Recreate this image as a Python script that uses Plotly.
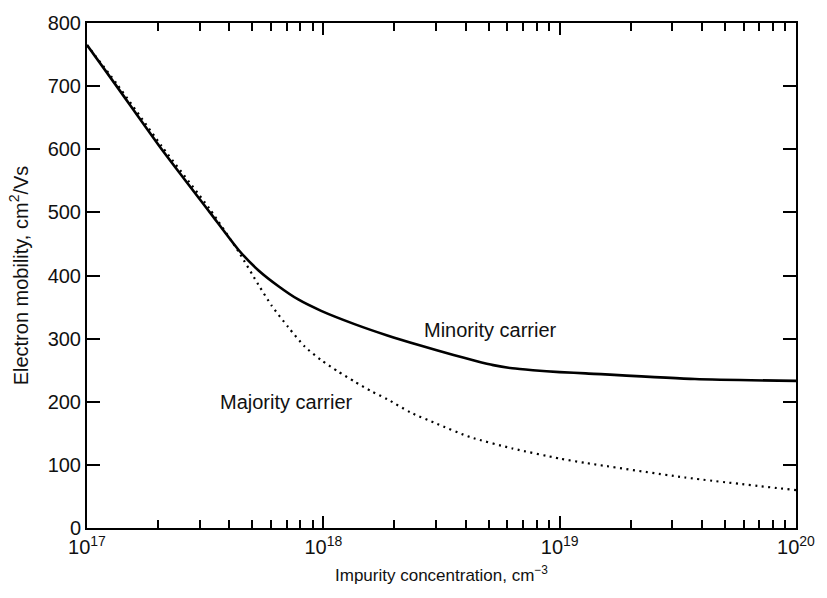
import plotly.graph_objects as go

# Minority carrier (solid)
minority_conc = [1e17, 1.334e17, 2.07e17, 3.31e17, 4.39e17, 5.32e17, 6.46e17, 7.83e17,
                 9.79e17, 1.355e18, 1.866e18, 2.576e18, 3.556e18, 4.385e18, 5.236e18,
                 6.31e18, 7.71e18, 1e19, 1.288e19, 3.733e19, 1e20]
minority_mob = [765, 700, 600, 500, 440, 408, 383, 362,
                344, 323, 305, 289, 274, 265, 258,
                253, 250, 247, 245, 236, 233]

# Majority carrier (dotted)
majority_conc = [1e17, 1.334e17, 2.07e17, 3.31e17, 4.39e17, 5.32e17, 6.05e17, 7.11e17,
                 8.36e17, 9.79e17, 1.153e18, 1.355e18, 1.589e18, 1.866e18, 2.339e18,
                 3.027e18, 4.178e18, 6.31e18, 1e19, 1.291e19, 3.39e19, 1e20]
majority_mob = [765, 704, 605, 505, 437, 385, 352, 318,
                287, 266, 248, 232, 217, 204, 183,
                165, 144, 126, 110, 103, 80, 60]

x_tickvals = [1e17, 1e18, 1e19, 1e20]
x_ticktext = ["10<sup>17</sup>", "10<sup>18</sup>", "10<sup>19</sup>", "10<sup>20</sup>"]
x_minor = [float(m) * 10.0 ** e for e in (17, 18, 19) for m in range(2, 10)]
y_tickvals = list(range(0, 900, 100))

font_family = "Liberation Sans, Arial, sans-serif"

fig = go.Figure()
fig.add_trace(go.Scatter(x=majority_conc, y=majority_mob, mode="lines",
                         line=dict(color="black", width=2.2, dash="2px,4.5px",
                                   shape="spline", smoothing=0.6),
                         showlegend=False))
fig.add_trace(go.Scatter(x=minority_conc, y=minority_mob, mode="lines",
                         line=dict(color="black", width=2.6, shape="spline", smoothing=0.6),
                         showlegend=False))

fig.add_annotation(x=18.706, y=313, xref="x", yref="y", text="Minority carrier",
                   showarrow=False, font=dict(size=20, color="#111", family=font_family))
fig.add_annotation(x=17.845, y=199, xref="x", yref="y", text="Majority carrier",
                   showarrow=False, font=dict(size=20, color="#111", family=font_family))

fig.update_xaxes(type="log", range=[17, 20], tickmode="array", tickvals=x_tickvals,
                 ticktext=x_ticktext, ticks="inside", ticklen=12, tickwidth=1.5,
                 tickcolor="black", showline=True, linecolor="black", linewidth=2,
                 mirror="ticks", showgrid=False, zeroline=False,
                 minor=dict(tickmode="array", tickvals=x_minor, ticks="inside",
                            ticklen=8, tickwidth=1.5, tickcolor="black", showgrid=False),
                 tickfont=dict(size=20, color="#111", family=font_family),
                 title=dict(text="Impurity concentration, cm<sup>\u22123</sup>",
                            font=dict(size=17, color="#111", family=font_family), standoff=12))
fig.update_yaxes(range=[0, 800], tickmode="array", tickvals=y_tickvals,
                 ticks="inside", ticklen=13, tickwidth=1.5, tickcolor="black",
                 showline=True, linecolor="black", linewidth=2, mirror="ticks",
                 showgrid=False, zeroline=False,
                 tickfont=dict(size=20, color="#111", family=font_family),
                 title=dict(text="Electron mobility, cm<sup>2</sup>/Vs",
                            font=dict(size=20, color="#111", family=font_family), standoff=14))

fig.update_layout(width=827, height=598, margin=dict(l=87, r=25, t=13, b=70),
                  plot_bgcolor="white", paper_bgcolor="white")

fig.write_html("out.html")
